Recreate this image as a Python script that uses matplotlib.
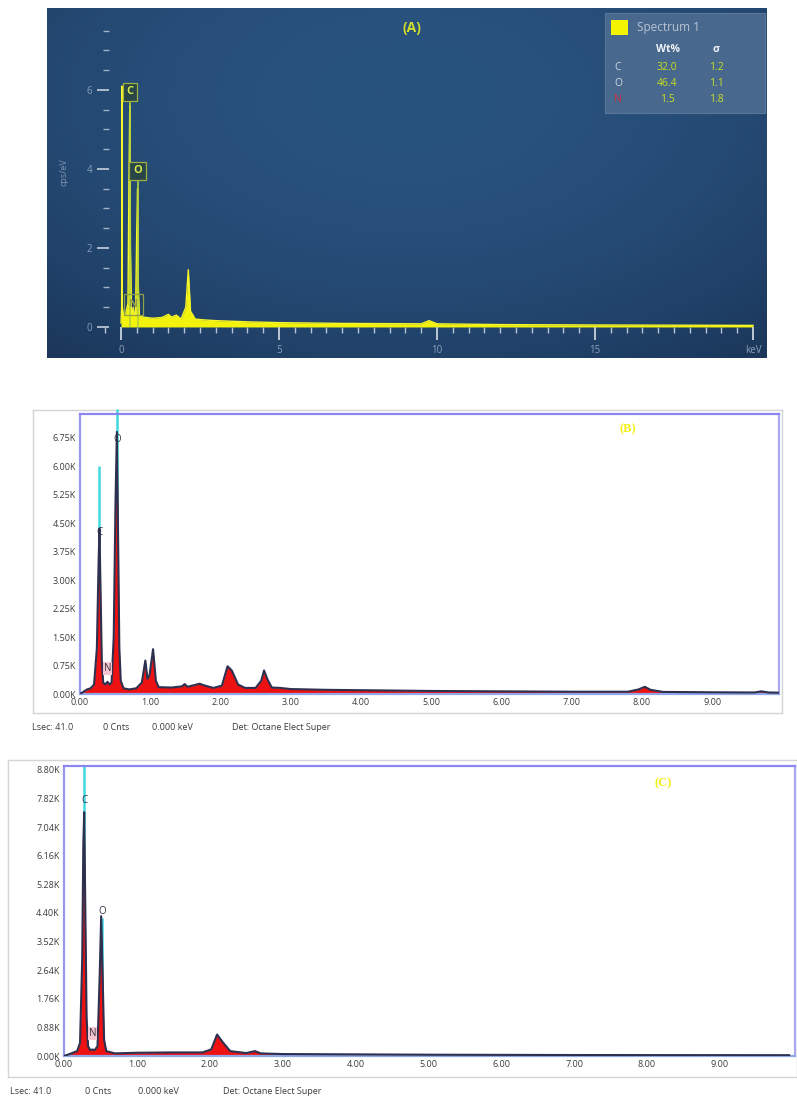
import matplotlib.pyplot as plt
import numpy as np
from matplotlib.patches import Rectangle
from matplotlib.colors import LinearSegmentedColormap
from matplotlib.ticker import MultipleLocator, FixedLocator

W, H = 797, 1097

# (A) AZtec spectrum, cps/eV vs keV
a_energy = [0.0, 0.02, 0.03, 0.04, 0.08, 0.15, 0.22, 0.25, 0.277, 0.30, 0.33, 0.36,
            0.39, 0.42, 0.46, 0.50, 0.525, 0.55, 0.58, 0.70, 1.0, 1.3, 1.5, 1.6,
            1.75, 1.9, 2.05, 2.13, 2.2, 2.35, 2.6, 3.0, 4.0, 5.0, 7.0, 9.5, 9.75,
            10.0, 12.0, 15.0, 20.0]
a_cps = [0.1, 0.5, 6.1, 0.5, 0.3, 0.35, 0.6, 3.5, 5.6, 2.0, 0.4, 0.35,
         0.5, 0.3, 0.3, 2.5, 3.5, 1.0, 0.3, 0.25, 0.22, 0.24, 0.32, 0.25,
         0.3, 0.2, 0.5, 1.45, 0.4, 0.2, 0.18, 0.16, 0.13, 0.11, 0.09, 0.08, 0.16,
         0.08, 0.06, 0.05, 0.04]
a_lines = {"C": 0.277, "O": 0.525, "N": 0.392}
a_elements = ["C", "O", "N"]
a_wt = ["32.0", "46.4", "1.5"]
a_sigma = ["1.2", "1.1", "1.8"]

# (B) Octane spectrum, counts vs keV
b_energy = [0.0, 0.05, 0.10, 0.15, 0.20, 0.24, 0.265, 0.277, 0.29, 0.31, 0.33, 0.36,
            0.39, 0.42, 0.45, 0.48, 0.505, 0.525, 0.54, 0.56, 0.58, 0.62, 0.70, 0.80,
            0.88, 0.93, 0.96, 0.99, 1.04, 1.08, 1.12, 1.30, 1.45, 1.49, 1.53, 1.62,
            1.70, 1.78, 1.90, 2.02, 2.10, 2.16, 2.25, 2.35, 2.50, 2.58, 2.62, 2.67,
            2.73, 2.85, 3.0, 3.5, 4.0, 5.0, 6.0, 7.0, 7.8, 7.95, 8.04, 8.12, 8.3,
            9.0, 9.6, 9.7, 9.8, 9.95]
b_counts = [0, 60, 120, 150, 250, 1200, 3500, 4350, 3000, 900, 300, 250,
            320, 250, 300, 1500, 5000, 6900, 4500, 1200, 350, 150, 120, 150,
            300, 880, 400, 500, 1180, 350, 180, 170, 200, 260, 190, 230,
            270, 220, 160, 220, 730, 620, 250, 160, 160, 350, 620, 380,
            170, 160, 130, 110, 100, 80, 70, 60, 60, 120, 190, 110, 55,
            45, 40, 70, 40, 35]
b_lines = {"C": 0.277, "O": 0.525, "N": 0.392}
b_yticks = [0, 750, 1500, 2250, 3000, 3750, 4500, 5250, 6000, 6750]

# (C) Octane spectrum, counts vs keV
c_energy = [0.0, 0.10, 0.18, 0.22, 0.25, 0.265, 0.277, 0.29, 0.31, 0.33, 0.36, 0.39,
            0.42, 0.46, 0.49, 0.51, 0.53, 0.55, 0.58, 0.70, 1.0, 1.5, 1.9, 2.02,
            2.10, 2.18, 2.28, 2.50, 2.62, 2.70, 3.0, 4.0, 5.0, 7.0, 9.95]
c_counts = [0, 80, 150, 400, 3000, 6500, 7500, 5000, 1200, 300, 180, 200,
            180, 300, 2500, 4300, 2500, 500, 150, 80, 100, 110, 110, 200,
            660, 420, 150, 90, 150, 80, 60, 50, 40, 30, 25]
c_lines = {"C": 0.277, "O": 0.525, "N": 0.392}
c_yticks = [0, 880, 1760, 2640, 3520, 4400, 5280, 6160, 7040, 7920, 8800]
c_ytick_labels = ["0.00K", "0.88K", "1.76K", "2.64K", "3.52K", "4.40K", "5.28K",
                  "6.16K", "7.04K", "7.82K", "8.80K"]
x_ticks = [0, 1, 2, 3, 4, 5, 6, 7, 8, 9]

status = ["Lsec: 41.0", "0 Cnts", "0.000 keV", "Det: Octane Elect Super"]

plt.rcParams['font.family'] = ['Open Sans', 'DejaVu Sans']

fig = plt.figure(figsize=(W / 100, H / 100), dpi=100)


def px_axes(x0, y0, x1, y1, **kw):
    return fig.add_axes([x0 / W, 1 - y1 / H, (x1 - x0) / W, (y1 - y0) / H], **kw)


def fx(x):
    return x / W


def fy(y):
    return 1 - y / H


# ---------------- panel A ----------------
bg = px_axes(47, 8, 767, 358)
gy, gx = np.mgrid[0:1:120j, 0:1:200j]
shade = 1 - 1.3 * (gx - 0.5) ** 2 - 0.9 * (gy - 0.25) ** 2
blue_cmap = LinearSegmentedColormap.from_list("aztec", ["#1b365a", "#29537f"])
bg.imshow(shade, cmap=blue_cmap, aspect="auto", extent=[0, 1, 0, 1])
bg.axis("off")

ax_a = px_axes(105, 20, 765, 340)
ax_a.patch.set_alpha(0)
ax_a.set_xlim(-0.506, 20.38)
ax_a.set_ylim(-0.33, 7.77)
for s in ax_a.spines.values():
    s.set_visible(False)
ax_a.spines["bottom"].set_position(("data", 0))
ax_a.spines["left"].set_position(("data", -0.38))

ax_a.fill_between(a_energy, a_cps, color="#f2f20c", lw=0)
ax_a.plot(a_energy, a_cps, color="#f6f62a", lw=1)

ax_a.xaxis.set_major_locator(FixedLocator([0, 5, 10, 15, 20]))
ax_a.set_xticklabels(["0", "5", "10", "15", "keV"])
ax_a.xaxis.set_minor_locator(MultipleLocator(0.5))
ax_a.tick_params(axis="x", which="major", length=9, width=1.3, color="#c9d3de",
                 labelcolor="#8a9fba", labelsize=7, pad=4)
ax_a.tick_params(axis="x", which="minor", length=4, width=1.0, color="#b7c3d2")
ax_a.yaxis.set_major_locator(FixedLocator([0, 2, 4, 6]))
ax_a.yaxis.set_minor_locator(MultipleLocator(0.5))
ax_a.tick_params(axis="y", which="major", length=9, width=1.3, color="#b9c5d4",
                 labelcolor="#8a9fba", labelsize=7, pad=3)
ax_a.tick_params(axis="y", which="minor", length=4, width=1.0, color="#9fb0c4")
fig.text(fx(64), fy(172), "cps/eV", rotation=90, ha="center", va="center",
         color="#7f95b1", fontsize=6.5)

# element markers
ax_a.vlines([a_lines["C"], a_lines["O"]], 0, [5.75, 3.72], color="#b5d23c", lw=1.2)
box_kw = dict(ha="center", va="center", fontsize=8, fontweight="bold")
ax_a.text(a_lines["C"], 5.95, "C", color="#d8e84c",
          bbox=dict(boxstyle="square,pad=0.3", fc="#2a4548", ec="#9db040", lw=0.9), **box_kw)
ax_a.text(a_lines["O"], 3.95, "O", color="#d8e84c",
          bbox=dict(boxstyle="square,pad=0.35", fc="#2a4548", ec="#9db040", lw=0.9), **box_kw)
ax_a.text(a_lines["N"], 0.56, "N", color="#8f9f48",
          bbox=dict(boxstyle="square,pad=0.45", fc="none", ec="#8f9f48", lw=0.9), **box_kw)

fig.text(fx(412), fy(28), "(A)", color="#d3e02a", fontsize=10, fontweight="bold",
         ha="center", va="center")

# quant table
fig.add_artist(Rectangle((fx(605), fy(113)), fx(160), 100 / H, transform=fig.transFigure,
                         fc="#4b6a8f", ec="#5d7a9c", lw=0.8, alpha=0.95))
fig.add_artist(Rectangle((fx(611), fy(35)), fx(17), 15 / H, transform=fig.transFigure,
                         fc="#f4f400", ec="none"))
fig.text(fx(637), fy(28), "Spectrum 1", color="#b9c5d3", fontsize=8.5, va="center")
fig.text(fx(668), fy(50), "Wt%", color="#f0f4f8", fontsize=7.5, fontweight="bold",
         ha="center", va="center")
fig.text(fx(716), fy(50), "σ", color="#f0f4f8", fontsize=7.5, fontweight="bold",
         ha="center", va="center")
for i, el in enumerate(a_elements):
    row_y = fy(67 + 16 * i)
    fig.text(fx(618), row_y, el, color="#d8283c" if el == "N" else "#d2dae4",
             fontsize=7.5, ha="center", va="center")
    fig.text(fx(667), row_y, a_wt[i], color="#c6de1e", fontsize=7.5, ha="center", va="center")
    fig.text(fx(716), row_y, a_sigma[i], color="#c6de1e", fontsize=7.5, ha="center", va="center")


# ---------------- panels B and C ----------------
def octane_panel(frame_px, axes_px, energy, counts, lines, xlim, ylim, yticks, ylabels,
                 line_tops, label_pos, tag, tag_px, status_px):
    frame = px_axes(*frame_px)
    frame.set_xticks([])
    frame.set_yticks([])
    for s in frame.spines.values():
        s.set_color("#d4d4d4")
        s.set_linewidth(1)

    ax = px_axes(*axes_px)
    ax.set_xlim(*xlim)
    ax.set_ylim(*ylim)
    ax.fill_between(energy, counts, color="#ee1111", lw=0, zorder=2)
    ax.plot(energy, counts, color="#2e3050", lw=1.5, zorder=3)
    for el in ["C", "O"]:
        ax.vlines(lines[el], 0, line_tops[el], color="#3fd9de", lw=1.8, zorder=1,
                  clip_on=False)
    for el, y in label_pos.items():
        kw = {}
        if el == "N":
            kw["bbox"] = dict(boxstyle="square,pad=0.1", fc="#f6c6d0", ec="none")
        ax.text(lines[el], y, el, ha="center", va="center", fontsize=7,
                color="#333344", zorder=4, **kw)

    ax.set_xticks(x_ticks)
    ax.set_xticklabels([f"{v:.2f}" for v in x_ticks])
    ax.set_yticks(yticks)
    ax.set_yticklabels(ylabels)
    ax.tick_params(length=0, labelsize=6.5, labelcolor="#3c3c3c", pad=3)
    ax.spines["top"].set_color("#8a86ee")
    ax.spines["left"].set_color("#9a96ee")
    ax.spines["right"].set_color("#aaa8ee")
    ax.spines["bottom"].set_color("#92a6ea")
    for s in ax.spines.values():
        s.set_linewidth(1.6)

    fig.text(fx(tag_px[0]), fy(tag_px[1]), tag, color="#f2ee10", fontsize=9,
             fontweight="bold", family="Liberation Serif", ha="center", va="center")
    for txt, x in zip(status, status_px[0]):
        fig.text(fx(x), fy(status_px[1]), txt, fontsize=6.5, color="#3a3a3a", va="center")
    return ax


octane_panel((33, 410, 782, 713), (80, 414, 779, 694), b_energy, b_counts, b_lines,
             (0, 9.95), (0, 7370), b_yticks, [f"{v / 1000:.2f}K" for v in b_yticks],
             {"C": 6000, "O": 7500}, {"C": 4250, "O": 6700, "N": 680},
             "(B)", (628, 429), ([32, 103, 152, 232], 727))

octane_panel((8, 760, 797, 1077), (64, 766, 795, 1056), c_energy, c_counts, c_lines,
             (0, 10.03), (0, 8920), c_yticks, c_ytick_labels,
             {"C": 8920, "O": 4250}, {"C": 7850, "O": 4450, "N": 700},
             "(C)", (663, 783), ([10, 85, 138, 223], 1092))

fig.savefig("out.png", dpi=100)
